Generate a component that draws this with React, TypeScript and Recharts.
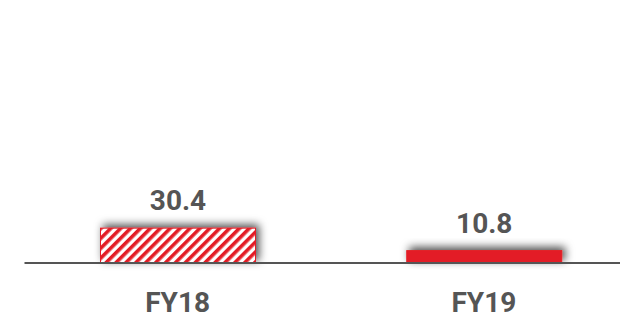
import React from 'react';
import { BarChart, Bar, XAxis, YAxis, Cell, LabelList } from 'recharts';

const categories = ['FY18', 'FY19'];
const values = [30.4, 10.8];
const fills = ['url(#hatchRed)', '#e31f26'];

const data = categories.map((name, i) => ({ name, value: values[i], fill: fills[i] }));

const RED = '#e31f26';
const TEXT = '#555555';

const ShadowBar = (props: any) => {
    const { x, y, width, height, fill } = props;
    return (
        <rect x={x} y={y} width={width} height={height} fill={fill}
            stroke={RED} strokeWidth={1} filter="url(#barShadow)" />
    );
};

const Tick = (props: any) => {
    const { x, y, payload } = props;
    return (
        <text x={x} y={y} dy={41} textAnchor="middle" fill={TEXT}
            fontFamily="Roboto" fontWeight="bold" fontSize={28}>
            {payload.value}
        </text>
    );
};

export default function App() {
    return (
        <div style={{ position: 'fixed', left: 0, top: 0, width: 620, height: 318, overflow: 'hidden', background: '#fff' }}>
            <BarChart width={660} height={318} data={data}
                margin={{ top: 28, right: 23, left: 24.5, bottom: 25 }}>
                <defs>
                    <pattern id="hatchRed" patternUnits="userSpaceOnUse" width={7} height={7}
                        patternTransform="rotate(45)">
                        <rect x={0} y={0} width={7} height={7} fill="#ffffff" />
                        <rect x={0} y={0} width={3.6} height={7} fill={RED} />
                    </pattern>
                    <filter id="barShadow" x="-20%" y="-100%" width="140%" height="250%">
                        <feDropShadow dx={3} dy={-3} stdDeviation={4} floodColor="#000" floodOpacity={0.7} />
                    </filter>
                </defs>
                <YAxis hide domain={[0, 205]} />
                <XAxis dataKey="name" axisLine={{ stroke: TEXT, strokeWidth: 2 }} tickLine={false}
                    tick={<Tick />} />
                <Bar dataKey="value" barSize={155} shape={<ShadowBar />} isAnimationActive={false}>
                    {data.map((d, i) => <Cell key={i} fill={d.fill} />)}
                    <LabelList dataKey="value" position="top" offset={18} fill={TEXT}
                        fontFamily="Roboto" fontWeight="bold" fontSize={28} />
                </Bar>
            </BarChart>
        </div>
    );
}
